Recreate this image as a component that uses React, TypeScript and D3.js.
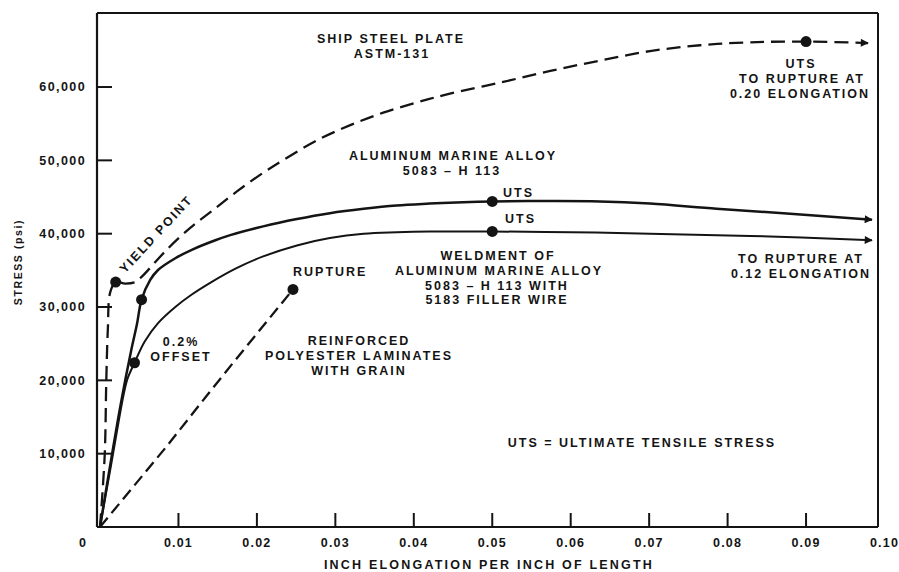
import React from "react";
import * as d3 from "d3";

// ---- axis ticks ----
const xTickValues = [0.01, 0.02, 0.03, 0.04, 0.05, 0.06, 0.07, 0.08, 0.09, 0.1];
const xTickLabels = ["0.01", "0.02", "0.03", "0.04", "0.05", "0.06", "0.07", "0.08", "0.09", "0.10"];
const yTickValues = [10000, 20000, 30000, 40000, 50000, 60000];
const yTickLabels = ["10,000", "20,000", "30,000", "40,000", "50,000", "60,000"];

// ---- series: strain (in/in) and stress (psi) ----
const steelStrain = [0, 0.0006, 0.0008, 0.001, 0.0013, 0.002, 0.0032, 0.0045, 0.0053, 0.0061, 0.0085, 0.0115, 0.0144, 0.0175, 0.0208, 0.0233, 0.0276, 0.0319, 0.0361, 0.0404, 0.0446, 0.051, 0.0574, 0.0637, 0.0701, 0.0765, 0.0829, 0.09, 0.0979];
const steelStress = [0, 9800, 19900, 27000, 32000, 33400, 33200, 33400, 34100, 35000, 37800, 40800, 43200, 45800, 48300, 50000, 52700, 54800, 56500, 57900, 59100, 60600, 62200, 63600, 64900, 65700, 66100, 66200, 66000];

const aluminumStrain = [0, 0.0026, 0.004, 0.0047, 0.0053, 0.0064, 0.0074, 0.0096, 0.0117, 0.0147, 0.0166, 0.0208, 0.0251, 0.0293, 0.0336, 0.0378, 0.042, 0.0463, 0.05, 0.057, 0.0637, 0.0701, 0.0786, 0.0871, 0.0984];
const aluminumStress = [0, 16500, 24200, 27600, 31000, 33700, 35050, 36650, 37800, 39100, 39800, 41000, 42000, 42800, 43400, 43850, 44100, 44300, 44400, 44450, 44400, 44100, 43400, 42800, 41900];

const weldStrain = [0, 0.0015, 0.003, 0.0035, 0.0044, 0.0057, 0.0074, 0.0096, 0.0117, 0.0142, 0.0174, 0.0208, 0.0251, 0.0293, 0.0336, 0.0378, 0.042, 0.05, 0.06, 0.0701, 0.0829, 0.0984];
const weldStress = [0, 9000, 18000, 20200, 22400, 25300, 27800, 30000, 31700, 33400, 35300, 36900, 38400, 39400, 40000, 40200, 40300, 40300, 40200, 40000, 39700, 39100];

const polyStrain = [0, 0.0085, 0.0136, 0.0169, 0.0246];
const polyStress = [0, 11000, 17900, 22300, 32400];

// ---- marked points [strain, stress] ----
const pointStrain = [0.002, 0.09, 0.0053, 0.05, 0.0044, 0.05, 0.0246];
const pointStress = [33400, 66200, 31000, 44400, 22400, 40300, 32400];

const W = 899;
const H = 572;
const FONT = "'Liberation Sans', Arial, Helvetica, sans-serif";
const INK = "#141414";

const zip = (xs: number[], ys: number[]) => xs.map((x, i) => [x, ys[i]] as [number, number]);

export default function App() {
  const x = d3.scaleLinear().domain([0, 0.1]).range([100, 884.5]);
  const y = d3.scaleLinear().domain([0, 70000]).range([527, 13.7]);
  const line = d3
    .line<[number, number]>()
    .x((d) => x(d[0]))
    .y((d) => y(d[1]))
    .curve(d3.curveCatmullRom.alpha(0.5));
  const straight = d3
    .line<[number, number]>()
    .x((d) => x(d[0]))
    .y((d) => y(d[1]));

  const left = 97;
  const right = 878;
  const top = 13;
  const bottom = 527;

  const textProps = {
    fontFamily: FONT,
    fontWeight: 700 as const,
    fontSize: 12.5,
    letterSpacing: 2,
    fill: INK,
  };

  const labels: { t: string; x: number; y: number; a?: string }[] = [
    { t: "SHIP STEEL PLATE", x: 391, y: 43 },
    { t: "ASTM-131", x: 392, y: 58 },
    { t: "UTS", x: 801, y: 68 },
    { t: "TO RUPTURE AT", x: 802, y: 83 },
    { t: "0.20 ELONGATION", x: 800, y: 98 },
    { t: "ALUMINUM MARINE ALLOY", x: 453, y: 160 },
    { t: "5083 \u2013 H 113", x: 452, y: 175 },
    { t: "UTS", x: 503, y: 197, a: "start" },
    { t: "UTS", x: 505, y: 223, a: "start" },
    { t: "WELDMENT OF", x: 498, y: 260 },
    { t: "ALUMINUM MARINE ALLOY", x: 499, y: 275 },
    { t: "5083 \u2013 H 113 WITH", x: 497, y: 290 },
    { t: "5183 FILLER WIRE", x: 497, y: 304 },
    { t: "TO RUPTURE AT", x: 801, y: 263 },
    { t: "0.12 ELONGATION", x: 801, y: 278 },
    { t: "RUPTURE", x: 293, y: 276, a: "start" },
    { t: "0.2%", x: 181, y: 346 },
    { t: "OFFSET", x: 181, y: 361 },
    { t: "REINFORCED", x: 359, y: 345 },
    { t: "POLYESTER LAMINATES", x: 359, y: 360 },
    { t: "WITH GRAIN", x: 359, y: 375 },
    { t: "UTS = ULTIMATE TENSILE STRESS", x: 642, y: 447 },
  ];

  return (
    <svg
      width={W}
      height={H}
      viewBox={`0 0 ${W} ${H}`}
      style={{ position: "absolute", left: 0, top: 0, background: "#fff" }}
    >
      <defs>
        <marker
          id="arrow"
          viewBox="0 0 10 10"
          refX="9"
          refY="5"
          markerWidth="11"
          markerHeight="8"
          markerUnits="userSpaceOnUse"
          orient="auto"
        >
          <path d="M0,0 L10,5 L0,10 z" fill={INK} />
        </marker>
      </defs>
      <rect x={0} y={0} width={W} height={H} fill="#fff" />

      {/* frame */}
      <g stroke={INK} fill="none">
        <line x1={left} y1={top} x2={right} y2={top} strokeWidth={2} />
        <line x1={right} y1={top} x2={right} y2={bottom} strokeWidth={2} />
        <line x1={left} y1={top} x2={left} y2={bottom} strokeWidth={2.2} />
        <line x1={left} y1={bottom} x2={right} y2={bottom} strokeWidth={2.2} />
      </g>

      {/* y ticks */}
      <g stroke={INK} strokeWidth={2}>
        {yTickValues.map((v) => (
          <line key={v} x1={left} x2={left + 15} y1={y(v)} y2={y(v)} />
        ))}
      </g>
      <g {...textProps} letterSpacing={1.4} textAnchor="end">
        {yTickValues.map((v, i) => (
          <text key={v} x={86} y={y(v)} dy="0.35em">
            {yTickLabels[i]}
          </text>
        ))}
      </g>

      {/* x ticks */}
      <g stroke={INK} strokeWidth={2}>
        {xTickValues.slice(0, 9).map((v) => (
          <line key={v} x1={x(v)} x2={x(v)} y1={bottom} y2={bottom - 14} />
        ))}
      </g>
      <g {...textProps} letterSpacing={1.2} textAnchor="middle">
        <text x={x(0) - 17} y={547}>0</text>
        {xTickValues.map((v, i) => (
          <text key={v} x={x(v)} y={547}>
            {xTickLabels[i]}
          </text>
        ))}
      </g>

      {/* axis titles */}
      <text {...textProps} letterSpacing={2.2} textAnchor="middle" x={489} y={569}>
        INCH ELONGATION PER INCH OF LENGTH
      </text>
      <text
        {...textProps}
        fontSize={10.5}
        letterSpacing={1.6}
        textAnchor="middle"
        transform="translate(22,262) rotate(-90)"
      >
        STRESS (psi)
      </text>

      {/* curves */}
      <g fill="none" stroke={INK} strokeLinecap="butt">
        <path d={line(zip(steelStrain, steelStress)) || ""} strokeWidth={2.3} strokeDasharray="14 7" markerEnd="url(#arrow)" />
        <path d={line(zip(aluminumStrain, aluminumStress)) || ""} strokeWidth={2.5} markerEnd="url(#arrow)" />
        <path d={line(zip(weldStrain, weldStress)) || ""} strokeWidth={2.0} markerEnd="url(#arrow)" />
        <path d={straight(zip(polyStrain, polyStress)) || ""} strokeWidth={2.3} strokeDasharray="12 6" />
      </g>

      {/* marked points */}
      <g fill={INK}>
        {pointStrain.map((s, i) => (
          <circle key={i} cx={x(s)} cy={y(pointStress[i])} r={5.5} />
        ))}
      </g>

      {/* annotations */}
      <g {...textProps}>
        {labels.map((l, i) => (
          <text key={i} x={l.x} y={l.y} textAnchor={l.a || "middle"}>
            {l.t}
          </text>
        ))}
        <text textAnchor="middle" transform="translate(156,234) rotate(-47)" dy="0.35em">
          YIELD POINT
        </text>
      </g>
    </svg>
  );
}
